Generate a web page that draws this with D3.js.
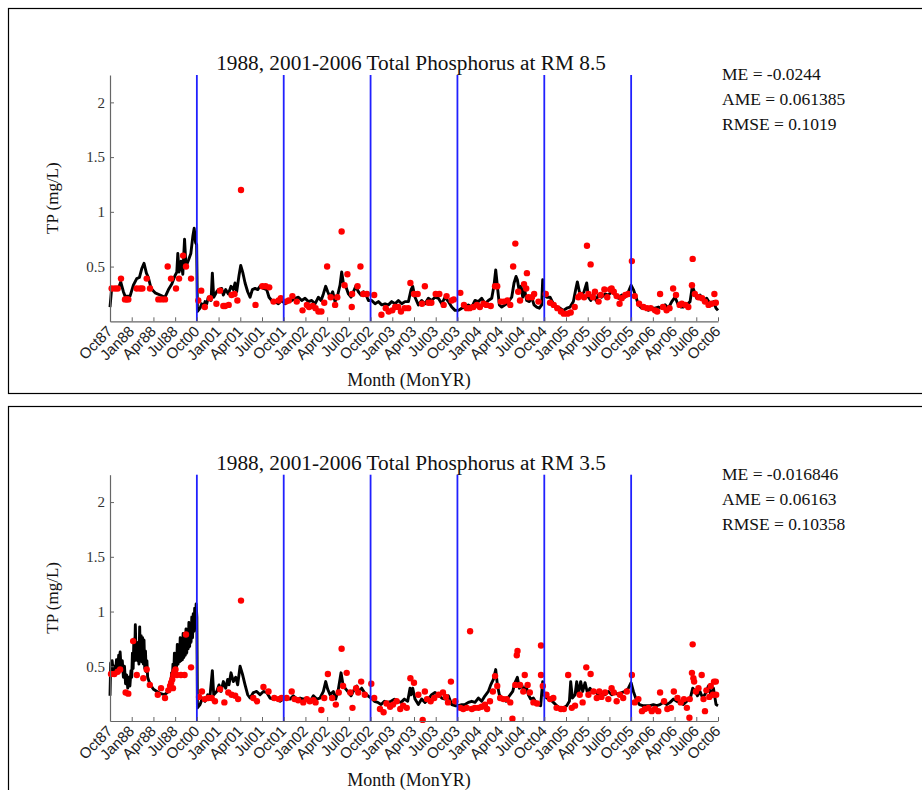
<!DOCTYPE html>
<html>
<head>
<meta charset="utf-8">
<script src="https://cdn.jsdelivr.net/npm/d3@7/dist/d3.min.js"></script>
<style>
  html, body { margin: 0; padding: 0; background: #fff; }
  svg { display: block; }
</style>
</head>
<body>
<svg id="chart" width="922" height="790"></svg>
<script>
// ---------------- DATA ----------------
// x = month index from Oct87 (0) ; Oct87..Oct88 then Oct00..Oct06 compressed on one axis
const tickLabels = ["Oct87","Jan88","Apr88","Jul88","Oct00","Jan01","Apr01","Jul01","Oct01",
  "Jan02","Apr02","Jul02","Oct02","Jan03","Apr03","Jul03","Oct03","Jan04","Apr04","Jul04",
  "Oct04","Jan05","Apr05","Jul05","Oct05","Jan06","Apr06","Jul06","Oct06"];
const tickMonths = [0,3,6,9,12,15,18,21,24,27,30,33,36,39,42,45,48,51,54,57,60,63,66,69,72,75,78,81,84];
const dividerMonths = [12,24,36,48,60,72];
const yTickValues = [0.5,1,1.5,2];

const titleTop = "1988, 2001-2006 Total Phosphorus at RM 8.5";
const titleBottom = "1988, 2001-2006 Total Phosphorus at RM 3.5";
const statsTop = ["ME = -0.0244","AME = 0.061385","RMSE = 0.1019"];
const statsBottom = ["ME = -0.016846","AME = 0.06163","RMSE = 0.10358"];

// RM 8.5 model (black line) [month, TP]
const topModel = [
 [0,0.13],[0.23,0.30],[1.15,0.30],[1.48,0.36],[1.85,0.27],[2.08,0.23],[2.77,0.23],[3.23,0.33],[3.69,0.39],
 [4.06,0.40],[4.38,0.48],[4.7,0.53],[5.03,0.44],[5.3,0.40],[5.67,0.30],[6.23,0.26],[6.92,0.24],[7.6,0.22],
 [8.08,0.29],[8.54,0.34],[9.0,0.42],[9.23,0.45],[9.37,0.62],[9.55,0.45],[9.83,0.55],[10.06,0.43],[10.3,0.75],
 [10.5,0.50],[10.85,0.56],[11.17,0.62],[11.45,0.78],[11.63,0.85],[11.82,0.72],[11.97,0.70],[12.08,0.09],
 [12.44,0.12],[12.67,0.16],[12.9,0.13],[13.13,0.18],[13.36,0.16],[13.59,0.22],[13.96,0.19],[14.14,0.44],
 [14.33,0.22],[14.74,0.27],[14.97,0.29],[15.43,0.30],[15.66,0.24],[15.98,0.29],[16.35,0.25],[16.72,0.32],
 [17.04,0.29],[17.27,0.35],[17.5,0.27],[17.83,0.42],[18.06,0.51],[18.33,0.45],[18.66,0.35],[19.02,0.27],
 [19.35,0.22],[19.67,0.29],[20.04,0.30],[20.41,0.29],[20.73,0.32],[21.19,0.30],[21.65,0.29],[21.97,0.22],
 [22.34,0.19],[22.8,0.18],[23.26,0.16],[23.72,0.19],[24.18,0.16],[24.64,0.18],[25.1,0.19],[25.56,0.21],
 [26.03,0.22],[26.49,0.19],[26.95,0.21],[27.41,0.18],[27.87,0.19],[28.33,0.16],[28.79,0.22],[29.16,0.19],
 [29.48,0.25],[29.8,0.32],[30.08,0.27],[30.4,0.22],[30.77,0.27],[31.09,0.18],[31.46,0.24],[31.78,0.33],
 [32.01,0.45],[32.24,0.35],[32.57,0.32],[32.94,0.25],[33.3,0.22],[33.63,0.27],[33.95,0.32],[34.32,0.27],
 [34.68,0.24],[35.01,0.27],[35.38,0.24],[35.7,0.19],[36.16,0.19],[36.62,0.16],[37.08,0.18],[37.54,0.15],
 [38.0,0.16],[38.46,0.15],[38.92,0.18],[39.38,0.16],[39.84,0.19],[40.3,0.16],[40.76,0.18],[41.23,0.18],
 [41.6,0.29],[41.82,0.32],[42.14,0.22],[42.6,0.15],[43.06,0.19],[43.52,0.16],[43.98,0.21],[44.44,0.19],
 [44.9,0.22],[45.37,0.21],[45.83,0.16],[46.29,0.22],[46.75,0.18],[47.21,0.13],[47.67,0.10],[48.13,0.10],
 [48.59,0.12],[49.05,0.13],[49.51,0.15],[49.97,0.13],[50.43,0.19],[50.89,0.18],[51.35,0.21],[51.81,0.16],
 [52.27,0.19],[52.74,0.21],[53.06,0.33],[53.29,0.47],[53.52,0.32],[53.79,0.15],[54.12,0.13],[54.58,0.15],
 [55.04,0.18],[55.5,0.22],[55.82,0.35],[56.1,0.41],[56.28,0.38],[56.56,0.27],[56.79,0.32],[57.02,0.22],
 [57.25,0.30],[57.57,0.19],[57.94,0.18],[58.26,0.22],[58.58,0.15],[58.95,0.13],[59.32,0.12],[59.64,0.15],
 [59.78,0.38],[59.97,0.24],[60.34,0.22],[60.8,0.22],[61.26,0.16],[61.72,0.13],[62.18,0.12],[62.64,0.10],
 [63.1,0.12],[63.56,0.13],[64.02,0.18],[64.34,0.29],[64.57,0.36],[64.85,0.27],[65.17,0.24],[65.49,0.27],
 [65.86,0.35],[66.09,0.22],[66.42,0.19],[66.78,0.25],[67.15,0.19],[67.47,0.24],[67.93,0.22],[68.4,0.25],
 [68.86,0.24],[69.32,0.27],[69.78,0.24],[70.24,0.21],[70.7,0.24],[71.16,0.22],[71.62,0.27],[71.99,0.33],
 [72.31,0.29],[72.68,0.22],[73.0,0.15],[73.46,0.12],[73.92,0.12],[74.38,0.10],[74.84,0.12],[75.3,0.12],
 [75.77,0.13],[76.23,0.12],[76.69,0.15],[77.15,0.12],[77.61,0.18],[78.07,0.22],[78.44,0.16],[78.85,0.13],
 [79.22,0.13],[79.68,0.15],[80.14,0.18],[80.46,0.32],[80.74,0.27],[81.06,0.21],[81.52,0.24],[81.98,0.19],
 [82.44,0.21],[82.9,0.16],[83.37,0.18],[83.73,0.12],[84.0,0.10]
];

// RM 8.5 observed (red dots)
const topObs = [
 [0.23,0.30],[0.69,0.30],[1.06,0.30],[1.52,0.39],[2.07,0.20],[2.3,0.20],[2.53,0.20],[3.69,0.30],[4.15,0.30],
 [4.47,0.30],[5.07,0.39],[5.53,0.30],[6.68,0.20],[7.14,0.20],[7.6,0.20],[7.97,0.50],[8.43,0.39],[9.12,0.30],
 [9.54,0.39],[10.1,0.60],[10.5,0.50],[11.2,0.39],
 [12.2,0.19],[12.6,0.28],[13.1,0.13],[13.8,0.21],[14.7,0.16],[15.2,0.28],[15.66,0.14],[15.9,0.14],[16.4,0.15],
 [16.8,0.24],[17.2,0.25],[17.6,0.19],[18.1,1.20],[20.1,0.15],[21.05,0.32],[21.5,0.32],[22.0,0.31],[22.6,0.18],
 [23.3,0.19],[23.6,0.21],[24.3,0.18],[24.7,0.19],[25.2,0.23],[25.8,0.18],[26.6,0.10],[27.2,0.15],[27.5,0.13],
 [28.0,0.14],[28.4,0.12],[28.8,0.09],[29.2,0.09],[29.6,0.17],[30.0,0.50],[30.5,0.22],[31.1,0.15],[31.4,0.22],
 [32.0,0.82],[32.4,0.33],[32.8,0.43],[33.4,0.13],[33.45,0.25],[34.2,0.32],[34.6,0.50],[35.0,0.25],[35.5,0.25],
 [36.5,0.24],[37.5,0.06],[38.1,0.12],[38.5,0.09],[39.0,0.10],[39.4,0.13],[39.8,0.13],[40.2,0.09],[40.7,0.12],
 [41.2,0.12],[41.5,0.35],
 [42.0,0.25],[42.5,0.25],[43.1,0.16],[43.5,0.32],[44.0,0.17],[44.4,0.17],[45.0,0.25],[45.5,0.25],[46.1,0.15],
 [46.5,0.23],[47.2,0.19],[47.5,0.20],[48.4,0.26],[48.9,0.15],[49.3,0.12],[49.7,0.12],[50.2,0.13],[50.7,0.15],
 [51.1,0.13],[51.6,0.16],[52.0,0.15],[52.6,0.14],[53.2,0.32],[53.5,0.32],[54.0,0.18],[54.4,0.18],[54.9,0.19],
 [55.3,0.15],[55.7,0.50],[56.0,0.71],[56.4,0.27],[56.65,0.19],[57.2,0.34],[57.6,0.44],[57.5,0.30],[57.8,0.22],
 [58.3,0.22],[58.6,0.25],[59.2,0.18],[60.2,0.25],[60.8,0.17],[61.3,0.15],[61.8,0.12],[62.3,0.09],[62.7,0.07],
 [63.2,0.07],[63.65,0.08],[64.2,0.13],[64.7,0.22],[65.0,0.24],[65.5,0.22],[65.9,0.69],[66.4,0.52],[66.1,0.25],
 [66.7,0.22],[67.0,0.27],[67.5,0.18],[67.8,0.24],[68.3,0.29],[68.7,0.22],[69.1,0.29],[69.3,0.30],[69.6,0.27],
 [70.0,0.23],[70.4,0.16],[70.7,0.21],[71.2,0.24],[71.6,0.25],[72.1,0.55],[72.5,0.23],[73.1,0.16],[73.7,0.13],
 [74.2,0.12],[74.7,0.12],[75.3,0.10],[75.6,0.09],[76.0,0.25],[76.4,0.13],[76.9,0.10],[77.3,0.12],[77.8,0.30],
 [78.2,0.24],[78.7,0.15],[79.0,0.16],[79.5,0.15],[79.9,0.13],[80.4,0.33],[80.5,0.57],[80.8,0.25],[81.3,0.22],
 [81.8,0.21],[82.2,0.18],[82.7,0.15],[83.1,0.16],[83.5,0.25],[83.7,0.17]
];

// RM 3.5 model (black line)
const bottomModel = [
 [0,0.23],[0.1,0.53],[0.2,0.42],[0.3,0.55],[0.45,0.44],[0.6,0.50],[0.75,0.44],[0.9,0.56],[1.05,0.46],[1.2,0.60],
 [1.3,0.48],[1.4,0.63],[1.55,0.46],[1.7,0.55],[1.85,0.40],[2.0,0.50],[2.15,0.34],[2.3,0.42],[2.45,0.30],[2.6,0.40],
 [2.75,0.32],[2.9,0.46],[3.0,0.40],[3.1,0.62],[3.2,0.48],[3.3,0.75],[3.4,0.55],[3.5,0.88],[3.6,0.58],[3.7,0.72],
 [3.8,0.55],[3.9,0.70],[4.0,0.52],[4.1,0.86],[4.2,0.56],[4.3,0.78],[4.4,0.54],[4.5,0.76],[4.6,0.52],[4.7,0.74],
 [4.8,0.48],[4.9,0.64],[5.0,0.45],[5.1,0.55],[5.2,0.40],[5.4,0.36],[5.7,0.32],[6.0,0.29],[6.5,0.27],[7.0,0.25],
 [7.5,0.24],[7.9,0.26],[8.2,0.30],[8.3,0.36],[8.4,0.30],[8.5,0.44],[8.6,0.36],[8.7,0.52],[8.8,0.42],[8.9,0.62],
 [9.0,0.46],[9.1,0.60],[9.2,0.50],[9.3,0.70],[9.4,0.52],[9.5,0.66],[9.6,0.54],[9.7,0.76],[9.8,0.55],[9.9,0.72],
 [10.0,0.56],[10.1,0.80],[10.2,0.58],[10.3,0.78],[10.4,0.60],[10.5,0.84],[10.6,0.62],[10.7,0.80],[10.8,0.66],
 [10.9,0.90],[11.0,0.68],[11.1,0.88],[11.2,0.72],[11.3,0.95],[11.4,0.76],[11.5,0.98],[11.6,0.82],[11.7,1.03],
 [11.8,0.88],[11.9,1.07],[12.0,0.95],[12.08,0.12],
 [12.44,0.15],[12.77,0.21],[13.13,0.18],[13.5,0.24],[13.82,0.23],[14.14,0.46],[14.33,0.24],[14.74,0.27],
 [15.06,0.33],[15.34,0.27],[15.66,0.36],[15.98,0.30],[16.26,0.38],[16.44,0.33],[16.72,0.44],[17.04,0.36],
 [17.37,0.40],[17.64,0.33],[17.97,0.50],[18.29,0.43],[18.66,0.33],[19.02,0.24],[19.35,0.21],[19.81,0.26],
 [20.27,0.27],[20.73,0.24],[21.19,0.27],[21.65,0.26],[22.11,0.21],[22.57,0.20],[23.03,0.21],[23.49,0.18],
 [23.95,0.20],[24.41,0.21],[24.87,0.20],[25.33,0.23],[25.79,0.20],[26.26,0.21],[26.72,0.20],[27.18,0.21],
 [27.64,0.18],[28.1,0.23],[28.56,0.20],[29.02,0.21],[29.48,0.27],[29.8,0.36],[30.08,0.29],[30.4,0.24],
 [30.86,0.27],[31.18,0.20],[31.55,0.29],[31.92,0.44],[32.2,0.33],[32.47,0.30],[32.84,0.27],[33.3,0.23],
 [33.76,0.29],[34.09,0.32],[34.41,0.27],[34.78,0.30],[35.15,0.26],[35.61,0.23],[36.07,0.21],[36.53,0.18],
 [36.99,0.17],[37.45,0.15],[37.91,0.18],[38.37,0.17],[38.83,0.18],[39.29,0.20],[39.75,0.18],[40.21,0.17],
 [40.67,0.20],[41.13,0.18],[41.45,0.30],[41.6,0.24],
 [41.82,0.30],[42.14,0.20],[42.6,0.15],[43.06,0.20],[43.52,0.17],[43.98,0.20],[44.44,0.24],[44.9,0.26],
 [45.37,0.24],[45.83,0.21],[46.29,0.20],[46.75,0.23],[47.21,0.15],[47.67,0.14],[48.13,0.14],[48.59,0.15],
 [49.05,0.15],[49.51,0.17],[49.97,0.18],[50.43,0.17],[50.89,0.21],[51.35,0.18],[51.81,0.23],[52.27,0.27],
 [52.6,0.33],[52.97,0.38],[53.29,0.47],[53.52,0.33],[53.79,0.24],[54.25,0.20],[54.72,0.18],[55.18,0.23],
 [55.64,0.27],[55.96,0.35],[56.28,0.40],[56.56,0.30],[56.88,0.33],[57.2,0.27],[57.48,0.32],[57.8,0.24],
 [58.12,0.20],[58.49,0.21],[58.86,0.17],[59.18,0.15],[59.5,0.14],[59.78,0.36],[59.97,0.24],[60.34,0.21],
 [60.8,0.20],[61.26,0.17],[61.72,0.14],[62.18,0.12],[62.64,0.12],[63.1,0.14],[63.47,0.18],[63.65,0.36],
 [63.88,0.21],[64.25,0.24],[64.48,0.36],[64.71,0.24],[65.03,0.36],[65.31,0.27],[65.63,0.35],[65.95,0.26],
 [66.32,0.30],[66.69,0.26],[67.01,0.27],[67.47,0.24],[67.93,0.26],[68.4,0.24],[68.86,0.27],[69.32,0.24],
 [69.78,0.26],[70.24,0.24],[70.7,0.26],[71.16,0.27],[71.62,0.30],[71.99,0.35],[72.31,0.27],[72.68,0.20],
 [73.14,0.15],[73.6,0.14],[74.15,0.14],[74.61,0.14],[75.07,0.15],[75.53,0.14],[75.99,0.15],[76.46,0.17],
 [76.92,0.15],[77.38,0.17],[77.84,0.20],[78.3,0.18],[78.76,0.17],[79.22,0.15],[79.68,0.18],[80.14,0.20],
 [80.51,0.30],[80.84,0.27],[81.16,0.23],[81.52,0.27],[81.88,0.21],[82.35,0.26],[82.67,0.32],[83.0,0.24],
 [83.37,0.30],[83.73,0.15],[84.0,0.14]
];

// RM 3.5 observed (red dots)
const bottomObs = [
 [0.14,0.43],[0.6,0.43],[1.06,0.45],[1.4,0.47],[3.2,0.73],[2.16,0.26],[2.53,0.25],[3.7,0.42],[4.6,0.39],
 [5.07,0.47],[5.5,0.33],[6.6,0.24],[7.05,0.30],[7.6,0.21],[8.06,0.28],[8.3,0.32],[8.45,0.35],[8.6,0.38],
 [8.75,0.42],[8.9,0.45],[9.05,0.47],[9.25,0.42],[8.7,0.30],[9.8,0.42],[10.3,0.42],[10.5,0.79],[11.2,0.49],
 [12.3,0.22],[12.7,0.27],[13.1,0.20],[13.6,0.21],[14.05,0.21],[14.5,0.18],[15.2,0.29],[15.8,0.17],[16.35,0.26],
 [16.8,0.24],[17.3,0.23],[17.7,0.20],[18.1,1.10],[19.8,0.21],[20.3,0.18],[21.2,0.31],[21.9,0.27],[22.7,0.21],
 [23.3,0.20],[23.7,0.21],[24.4,0.21],[25.1,0.27],[25.5,0.20],[26.0,0.19],[26.7,0.17],[27.2,0.20],[27.6,0.18],
 [28.1,0.19],[28.4,0.17],[29.2,0.10],[29.6,0.21],[30.1,0.43],[30.7,0.21],[31.2,0.15],[31.6,0.26],[32.0,0.66],
 [32.2,0.32],[32.7,0.44],[33.2,0.26],[33.5,0.12],[34.0,0.30],[34.3,0.26],[34.7,0.36],[35.2,0.24],[36.1,0.34],
 [36.5,0.21],[37.3,0.11],[37.8,0.08],[38.2,0.16],[38.7,0.13],[39.1,0.15],[39.6,0.18],[40.1,0.11],[40.5,0.14],
 [41.0,0.12],[41.5,0.39],
 [42.0,0.35],[42.6,0.24],[43.2,0.01],[43.5,0.27],[43.8,0.20],[44.3,0.18],[44.8,0.21],[45.4,0.24],[46.0,0.26],
 [46.4,0.22],[46.7,0.17],[47.1,0.36],[47.7,0.18],[48.4,0.12],[48.8,0.11],[49.3,0.12],[49.75,0.82],[50.0,0.11],
 [50.4,0.12],[50.9,0.12],[51.35,0.13],[51.8,0.15],[52.1,0.11],[52.5,0.18],[52.9,0.27],[53.2,0.41],[53.5,0.32],
 [53.9,0.21],[54.35,0.20],[54.8,0.20],[55.3,0.17],[55.6,0.02],[56.0,0.33],[56.2,0.60],[56.3,0.64],[56.65,0.33],
 [57.1,0.27],[57.3,0.42],[57.7,0.33],[58.0,0.26],[58.5,0.17],[59.0,0.16],[59.55,0.69],[59.55,0.42],[59.8,0.32],
 [60.3,0.24],[60.8,0.20],[61.25,0.21],[61.7,0.12],[62.3,0.11],[62.7,0.11],[63.3,0.42],[63.8,0.12],[64.25,0.14],
 [64.9,0.24],[65.3,0.17],[65.8,0.49],[66.4,0.43],[66.1,0.24],[66.8,0.27],[67.25,0.21],[67.6,0.27],[67.9,0.22],
 [68.4,0.26],[68.85,0.20],[69.3,0.30],[69.6,0.26],[70.0,0.18],[70.45,0.24],[70.9,0.21],[71.4,0.27],[72.1,0.42],
 [72.5,0.17],[73.0,0.20],[73.5,0.09],[73.9,0.11],[74.4,0.12],[74.85,0.09],[75.3,0.11],[75.75,0.09],[76.0,0.26],
 [76.55,0.18],[77.0,0.11],[77.5,0.12],[77.9,0.27],[78.4,0.21],[78.85,0.17],[79.3,0.20],[79.7,0.12],[80.05,0.03],
 [80.1,0.20],[80.4,0.44],[80.5,0.70],[80.6,0.39],[80.7,0.36],[80.95,0.27],[81.3,0.30],[81.75,0.42],[82.0,0.20],
 [82.2,0.09],[82.4,0.28],[82.8,0.22],[83.0,0.32],[83.3,0.24],[83.45,0.36],[83.7,0.36],[83.75,0.24]
];

// ---------------- DRAWING ----------------
const svg = d3.select("#chart");
const serif = "'Liberation Serif','Times New Roman',serif";
const sans = "'Liberation Sans',Arial,sans-serif";

const panels = [
  {dy: 0, frameTop: 8.5, frameBottom: 393.5, title: titleTop, stats: statsTop, model: topModel, obs: topObs},
  {dy: 399.7, frameTop: 406.5, frameBottom: 830, title: titleBottom, stats: statsBottom, model: bottomModel, obs: bottomObs}
];

const x = d3.scaleLinear().domain([0, 84]).range([110, 718]);

panels.forEach(p => {
  // frame
  svg.append("rect")
    .attr("x", 8.5).attr("y", p.frameTop)
    .attr("width", 940).attr("height", p.frameBottom - p.frameTop)
    .attr("fill", "none").attr("stroke", "#000").attr("stroke-width", 1.2);

  const y = d3.scaleLinear().domain([0, 2.25]).range([321.3 + p.dy, 75 + p.dy]);
  const g = svg.append("g");

  // title
  g.append("text")
    .attr("x", 411).attr("y", 70 + p.dy)
    .attr("text-anchor", "middle")
    .attr("font-family", serif).attr("font-size", 21.3)
    .attr("fill", "#111")
    .text(p.title);

  // stats
  p.stats.forEach((s, i) => {
    g.append("text")
      .attr("x", 722).attr("y", 80 + p.dy + i * 25)
      .attr("font-family", serif).attr("font-size", 17.5)
      .attr("fill", "#111")
      .text(s);
  });

  // model line
  const line = d3.line().x(d => x(d[0])).y(d => y(d[1]));
  g.append("path")
    .datum(p.model)
    .attr("d", line)
    .attr("fill", "none").attr("stroke", "#000")
    .attr("stroke-width", 2.9).attr("stroke-linejoin", "round");

  // observations
  g.append("g").selectAll("circle")
    .data(p.obs).join("circle")
    .attr("cx", d => x(d[0])).attr("cy", d => y(d[1]))
    .attr("r", 3.2).attr("fill", "#ff0000");

  // dividers
  g.append("g").selectAll("line")
    .data(dividerMonths).join("line")
    .attr("x1", d => x(d)).attr("x2", d => x(d))
    .attr("y1", y(2.25)).attr("y2", y(0))
    .attr("stroke", "#2020ff").attr("stroke-width", 1.8);

  // x axis
  const xAxis = d3.axisBottom(x)
    .tickValues(tickMonths)
    .tickFormat((d, i) => tickLabels[i])
    .tickSizeInner(-4).tickSizeOuter(0);
  const gx = g.append("g")
    .attr("transform", `translate(0,${y(0)})`)
    .call(xAxis);
  gx.select(".domain").attr("stroke", "#666").attr("stroke-width", 1.2);
  gx.selectAll(".tick line").attr("stroke", "#666");
  gx.selectAll(".tick text")
    .attr("y", 0).attr("dy", 0)
    .attr("text-anchor", "end")
    .attr("transform", "translate(3,11) rotate(-45)")
    .attr("font-family", sans).attr("font-size", 15)
    .attr("fill", "#222");

  // y axis
  const yAxis = d3.axisLeft(y)
    .tickValues(yTickValues)
    .tickFormat(d3.format("~g"))
    .tickSizeInner(-4).tickSizeOuter(0).tickPadding(5);
  const gy = g.append("g")
    .attr("transform", `translate(110,0)`)
    .call(yAxis);
  gy.select(".domain").attr("stroke", "#666").attr("stroke-width", 1.2);
  gy.selectAll(".tick line").attr("stroke", "#666");
  gy.selectAll(".tick text")
    .attr("font-family", serif).attr("font-size", 15)
    .attr("fill", "#333");

  // axis labels
  g.append("text")
    .attr("transform", `translate(58,${(y(0) + y(2.25)) / 2}) rotate(-90)`)
    .attr("text-anchor", "middle")
    .attr("font-family", serif).attr("font-size", 17)
    .attr("fill", "#111")
    .text("TP (mg/L)");

  g.append("text")
    .attr("x", 409).attr("y", 386 + p.dy)
    .attr("text-anchor", "middle")
    .attr("font-family", serif).attr("font-size", 18)
    .attr("fill", "#111")
    .text("Month (MonYR)");
});
</script>
</body>
</html>
